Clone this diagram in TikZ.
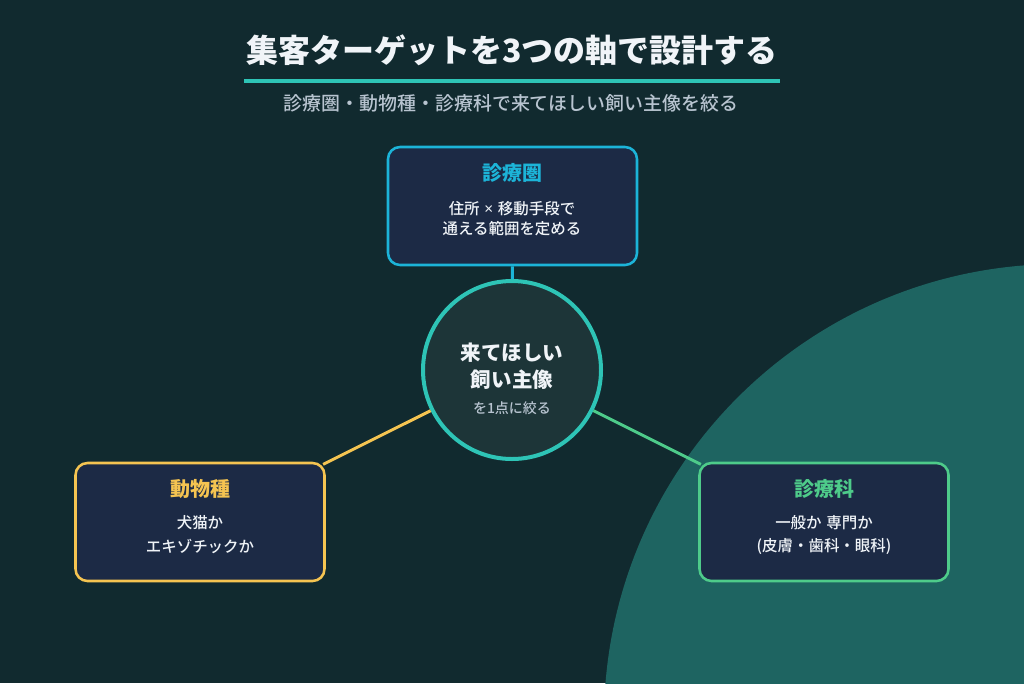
\documentclass[tikz,border=0pt]{standalone}
\usepackage{fontspec}
\setmainfont{Noto Sans CJK JP}
\newfontfamily\medfont{Noto Sans CJK JP}[UprightFont=* Medium]
\newfontfamily\latinfont{Noto Sans}
\definecolor{bgc}{HTML}{112A2F}
\definecolor{bigc}{HTML}{1E6461}
\definecolor{boxfill}{HTML}{1C2A45}
\definecolor{cfill}{HTML}{1D3538}
\definecolor{teal}{HTML}{2EC4B6}
\definecolor{cyanc}{HTML}{1CB4D8}
\definecolor{yel}{HTML}{F5C451}
\definecolor{grn}{HTML}{4ECB8A}
\definecolor{txt}{HTML}{F0F4F8}
\definecolor{subt}{HTML}{B8C4D0}
\tikzset{
  card/.style={draw, fill=boxfill, rounded corners=9pt, line width=1.9pt,
    minimum width=186.75pt, minimum height=88.5pt, inner sep=0pt},
  cardtitle/.style={font=\fontsize{15pt}{18pt}\selectfont\bfseries, inner sep=0pt},
  cardtext/.style={font=\medfont\fontsize{11.6pt}{17pt}\selectfont, text=txt, inner sep=0pt, align=center},
  conn/.style={line width=2.2pt},
}
\begin{document}
\begin{tikzpicture}[x=0.75pt,y=-0.75pt]
\useasboundingbox (0,0) rectangle (1024,683);
\fill[bgc] (0,0) rectangle (1024,683);
\begin{scope}
  \clip (0,0) rectangle (1024,683);
  \fill[bigc] (1060,720) circle[radius=342pt];
\end{scope}

% title
\node[font=\fontsize{24pt}{28pt}\selectfont\bfseries, text=txt, inner sep=0pt] (title) at (512,50) {集客ターゲットを3つの軸で設計する};
\coordinate (ulL) at (244,81);
\coordinate (ulR) at (780,81);
\draw[teal, line width=2.6pt] (ulL) -- (ulR);
\node[font=\medfont\fontsize{14.2pt}{16pt}\selectfont, text=subt, inner sep=0pt] (sub) at (511,103) {診療圏・動物種・診療科で来てほしい飼い主像を絞る};

% center
\node[circle, draw=teal, fill=cfill, line width=3pt, minimum size=133.5pt, inner sep=0pt] (c) at (512,370) {};
\node[font=\fontsize{15.4pt}{18pt}\selectfont\bfseries, text=txt, inner sep=0pt] (c1) at (512,353) {来てほしい};
\node[font=\fontsize{15.4pt}{18pt}\selectfont\bfseries, text=txt, inner sep=0pt] (c2) at (512,380) {飼い主像};
\node[font=\medfont\fontsize{10.5pt}{12pt}\selectfont, text=subt, inner sep=0pt] (c3) at (512,408) {を1点に絞る};

% boxes
\node[card, draw=cyanc] (tbox) at (512.5,206) {};
\node[cardtitle, text=cyanc] (tt) at (512,173) {診療圏};
\node[cardtext] (tl1) at (512,209) {住所\hspace{3.5pt}{\latinfont ×}\hspace{3.5pt}移動手段で};
\node[cardtext] (tl2) at (512,229) {通える範囲を定める};

\node[card, draw=yel] (lbox) at (200,522) {};
\node[cardtitle, text=yel] (lt) at (200,489) {動物種};
\node[cardtext] (ll1) at (200,523) {犬猫か};
\node[cardtext] (ll2) at (200,546) {エキゾチックか};

\node[card, draw=grn] (rbox) at (824,522) {};
\node[cardtitle, text=grn] (rt) at (824,489) {診療科};
\node[cardtext] (rl1) at (824,523) {一般か\hspace{3.5pt}専門か};
\node[cardtext] (rl2) at (824,546) {(皮膚・歯科・眼科)};

% connectors
\draw[conn, cyanc] (c) -- (tbox);
\draw[conn, yel] (c) -- ([xshift=-2pt,yshift=-2pt]lbox.north east);
\draw[conn, grn] (c) -- ([xshift=2pt,yshift=-2pt]rbox.north west);
\end{tikzpicture}
\end{document}
